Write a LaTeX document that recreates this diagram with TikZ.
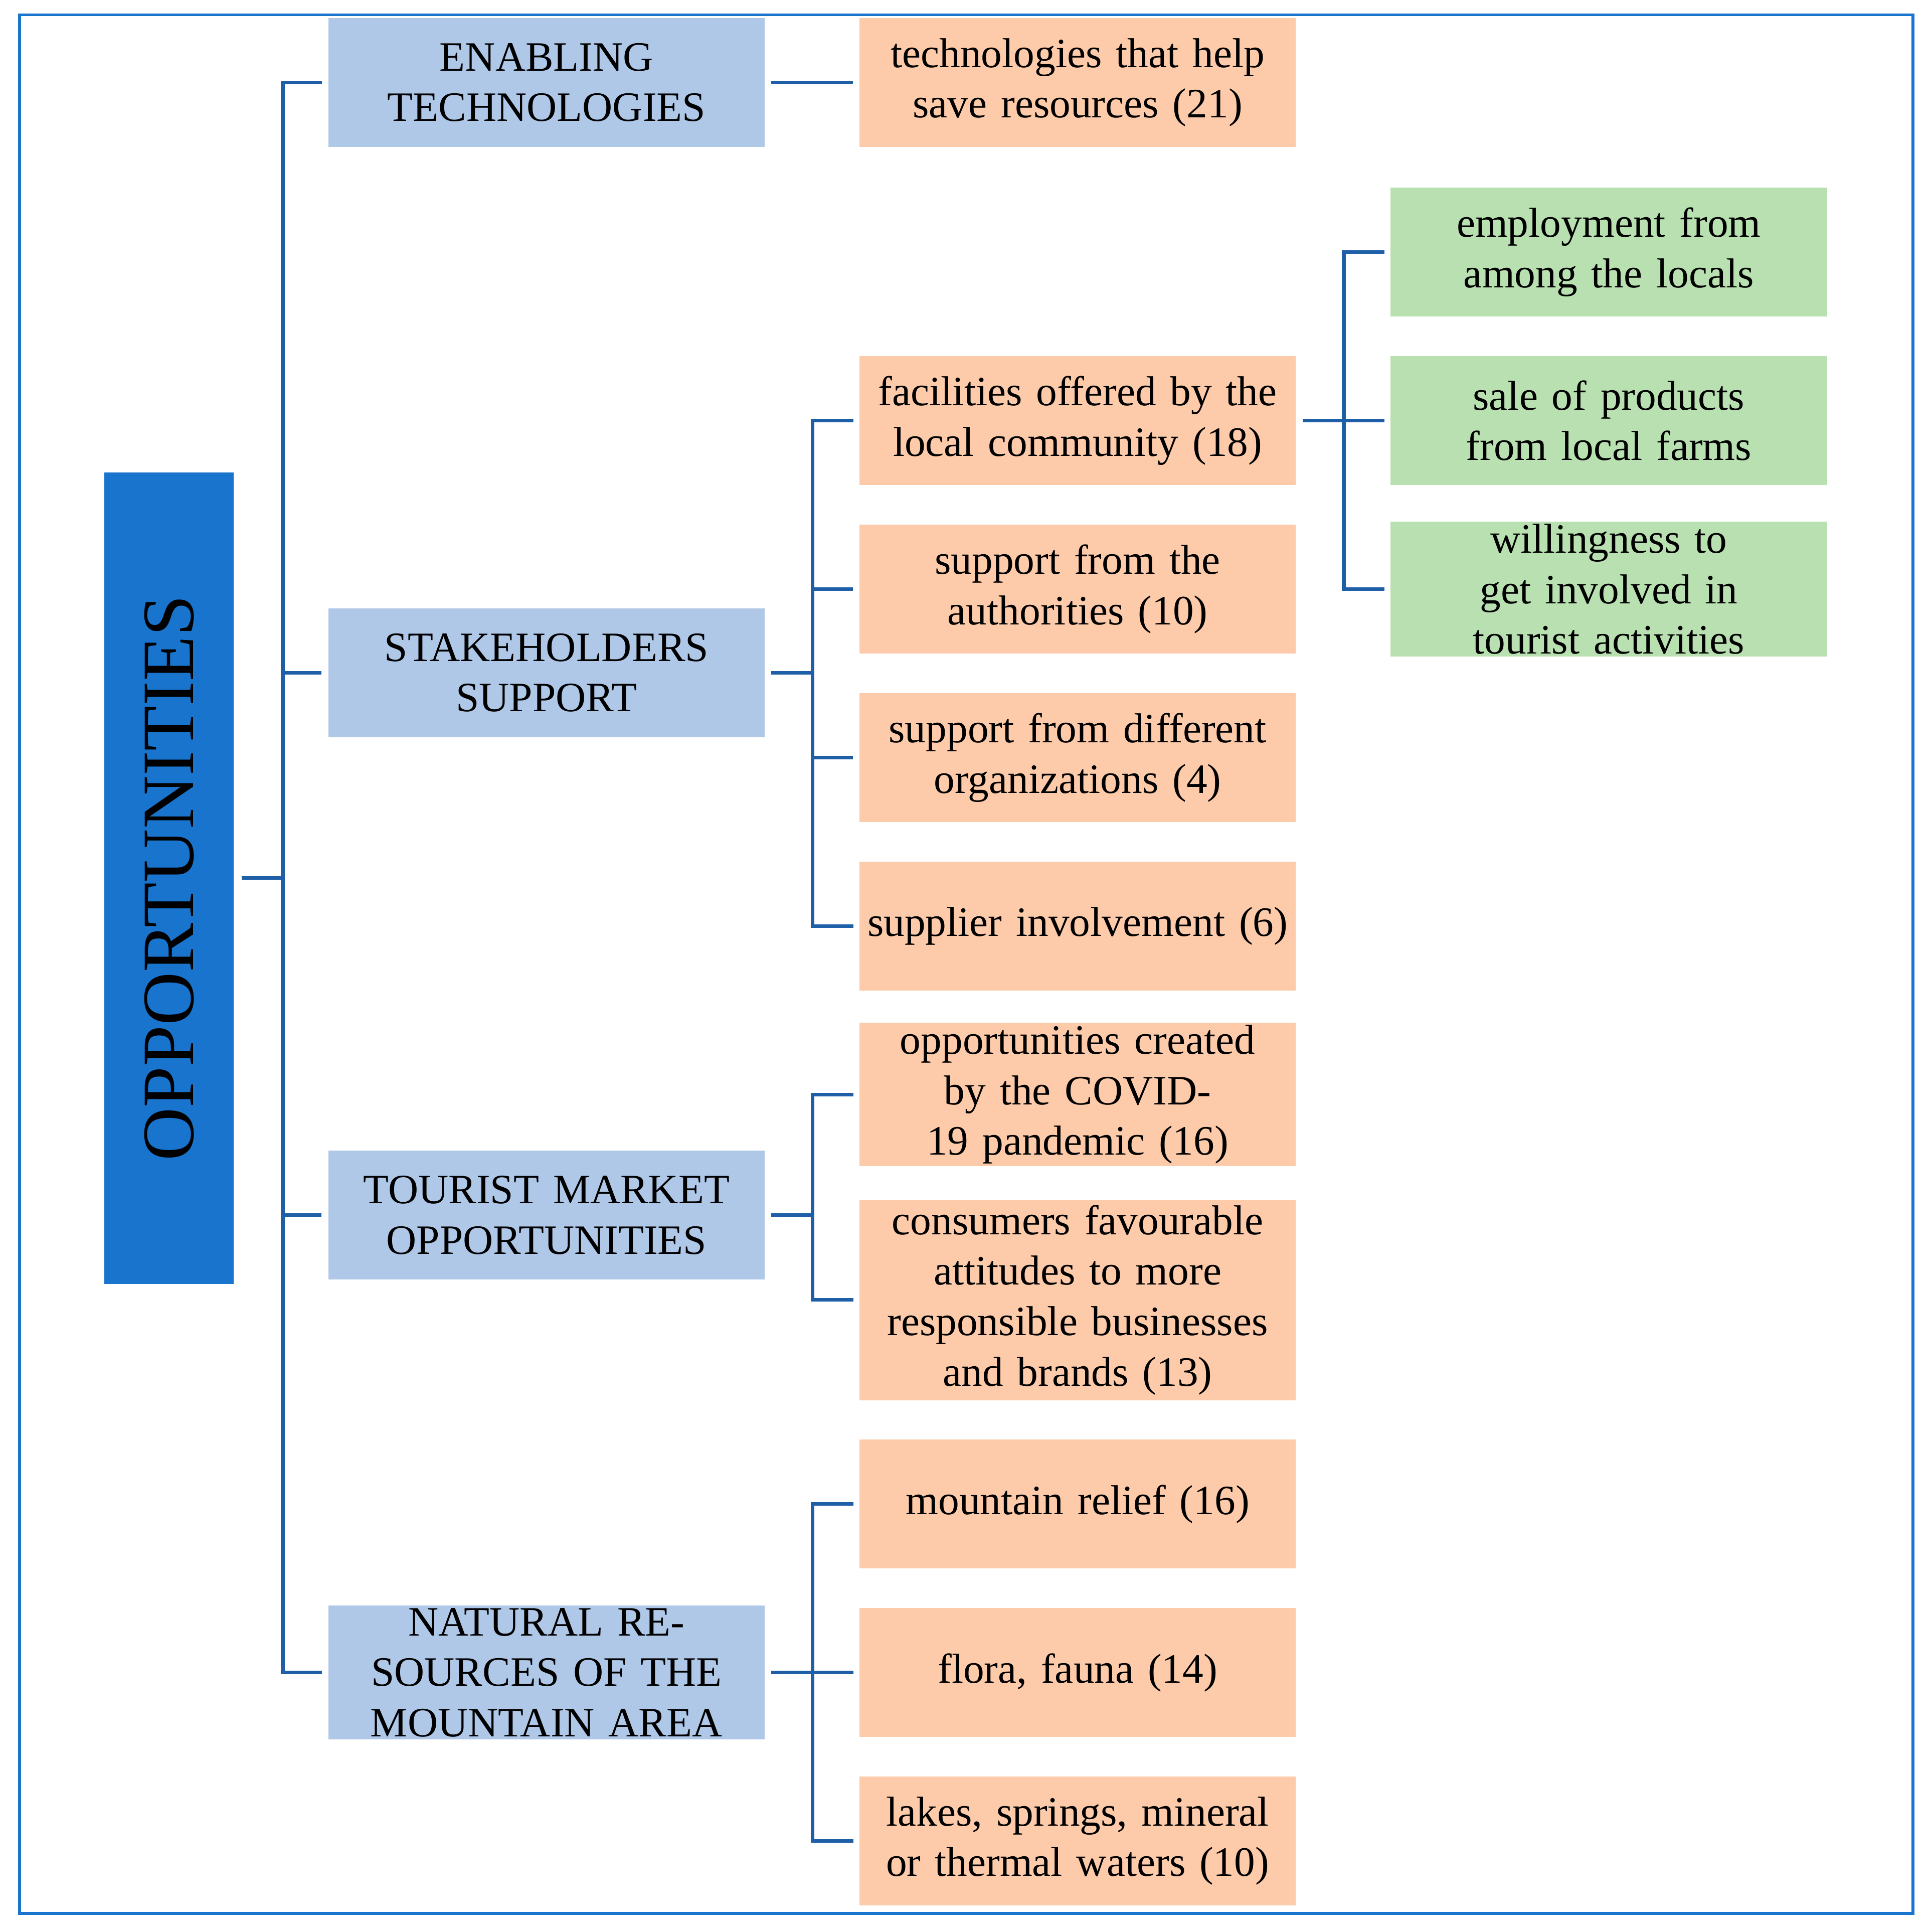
\documentclass[tikz,border=0pt]{standalone}
\usepackage{fontspec}
\setmainfont{Liberation Serif}
\begin{document}
\begin{tikzpicture}[x=0.5pt,y=-0.5pt,
  box/.style={minimum width=177.5pt,minimum height=52.5pt,text width=172pt,align=center,inner sep=1pt,font=\fontsize{17}{20.5}\selectfont},
  l1/.style={box,fill=l1c},
  l2/.style={box,fill=l2c},
  l3/.style={box,fill=l3c},
  con/.style={draw=linec,line width=1.5pt}]
\definecolor{l1c}{HTML}{B0C8E8}
\definecolor{l2c}{HTML}{FDCBAA}
\definecolor{l3c}{HTML}{B9E0B0}
\definecolor{linec}{HTML}{1F5FA8}
\definecolor{rootc}{HTML}{1874CD}
\useasboundingbox (0,0) rectangle (1568,1571);
\draw[draw=rootc,line width=1.2pt] (16,12) rectangle (1556,1556);
\node[fill=rootc,minimum width=52.5pt,minimum height=330pt,inner sep=0pt] (root) at (137.5,714) {};
\node[rotate=90,font=\fontsize{30}{36}\selectfont] at (root) {OPPORTUNITIES};
\node[l1] (a) at (444.5,67) {ENABLING TECHNOLOGIES};
\node[l1] (b) at (444.5,547) {STAKEHOLDERS SUPPORT};
\node[l1] (c) at (444.5,988) {TOURIST MARKET OPPORTUNITIES};
\node[l1] (d) at (444.5,1360) {NATURAL RESOURCES OF THE MOUNTAIN AREA};
\node[l2] (a1) at (876.5,67) {technologies that help save resources (21)};
\node[l2] (b1) at (876.5,342) {facilities offered by the local community (18)};
\node[l2] (b2) at (876.5,479) {support from the authorities (10)};
\node[l2] (b3) at (876.5,616) {support from different organizations (4)};
\node[l2] (b4) at (876.5,753) {supplier involvement (6)};
\node[l2] (c1) at (876.5,890) {opportunities created by the COVID-19 pandemic (16)};
\node[l2,minimum height=81.5pt] (c2) at (876.5,1057) {consumers favourable attitudes to more responsible businesses and brands (13)};
\node[l2] (d1) at (876.5,1223) {mountain relief (16)};
\node[l2] (d2) at (876.5,1360) {flora, fauna (14)};
\node[l2] (d3) at (876.5,1497) {lakes, springs, mineral or thermal waters (10)};
\node[l3] (e1) at (1308.5,205) {employment from among the locals};
\node[l3] (e2) at (1308.5,342) {sale of products from local farms};
\node[l3] (e3) at (1308.5,479) {willingness to get involved in tourist activities};
% connectors
\draw[con] ([xshift=3pt]root.east) -- (230,714);
\draw[con] (262,67) -| (230,1360) -- (262,1360);
\foreach \n in {b,c}{\draw[con] (230,0 |- \n.west) -- ([xshift=-2.5pt]\n.west);}
\draw[con] ([xshift=2.5pt]a.east) -- ([xshift=-2.5pt]a1.west);
\draw[con] ([xshift=2.5pt]b.east) -- (661,547);
\draw[con] (694,342) -| (661,753) -- (694,753);
\foreach \n in {b2,b3}{\draw[con] (661,0 |- \n.west) -- ([xshift=-2.5pt]\n.west);}
\draw[con] ([xshift=2.5pt]c.east) -- (661,988);
\draw[con] (694,890) -| (661,1057) -- (694,1057);
\draw[con] ([xshift=2.5pt]d.east) -- (694,1360);
\draw[con] (694,1223) -| (661,1497) -- (694,1497);
\draw[con] ([xshift=2.5pt]b1.east) -- (1126,342);
\draw[con] (1126,205) -| (1093,479) -- (1126,479);
\end{tikzpicture}
\end{document}
